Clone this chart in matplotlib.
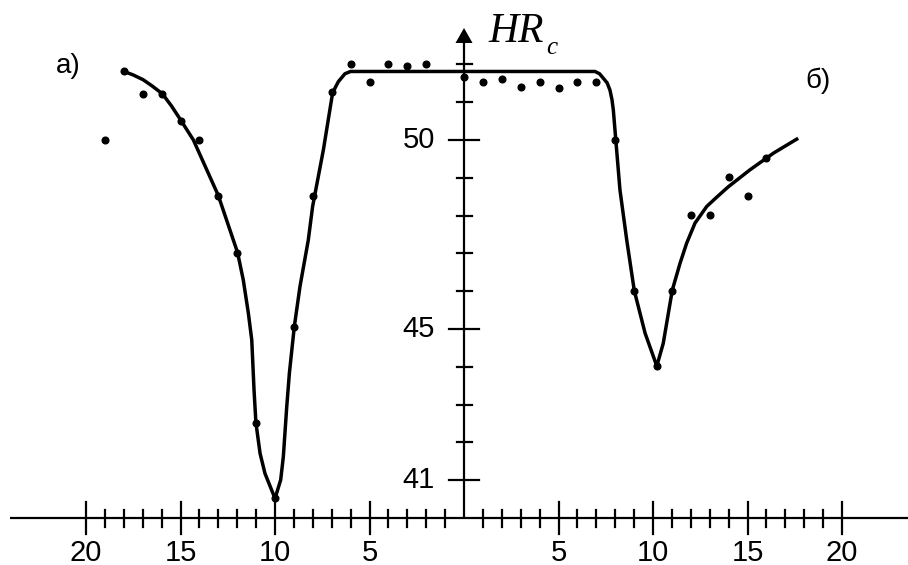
import matplotlib
matplotlib.use("Agg")
import matplotlib.pyplot as plt
from matplotlib.patches import Polygon

# ---- data ----
# left panel (a): distance to the left of the HR axis
left_dist = [19, 18, 17, 16, 15, 14, 13, 12, 11, 10, 9, 8, 7, 6, 5, 4, 3, 2]
left_hr = [50.0, 51.81, 51.21, 51.21, 50.51, 50.0, 48.52, 47.02, 42.52, 40.52,
           45.06, 48.52, 51.28, 52.01, 51.52, 52.01, 51.96, 52.01]
# right panel (б)
right_dist = [0, 1, 2, 3, 4, 5, 6, 7, 8, 9, 10.2, 11, 12, 13, 14, 15, 16]
right_hr = [51.66, 51.52, 51.61, 51.41, 51.52, 51.36, 51.52, 51.52, 50.0, 46.01,
            44.02, 46.01, 48.02, 48.02, 49.01, 48.52, 49.52]
# fitted curve (signed position: negative = left side)
curve_x = [-17.99, -17.51, -16.97, -16.51, -15.96, -15.48, -14.97, -14.32, -13.0,
           -11.98, -11.68, -11.41, -11.23, -11.11, -11.01, -10.79, -10.53, -10.0,
           -9.70, -9.56, -9.38, -9.24, -8.98, -8.68, -8.24, -8.01, -7.44, -6.95,
           -6.65, -6.30, -6.0,
           6.93, 7.17, 7.37, 7.57, 7.72, 7.83, 7.90, 8.03, 8.25, 8.61, 9.01, 9.58,
           10.20, 10.54, 11.02, 11.43, 11.78, 12.22, 12.84, 13.40, 13.98, 15.13,
           16.37, 17.60]
curve_y = [51.81, 51.72, 51.59, 51.43, 51.22, 50.90, 50.51, 50.0, 48.53,
           47.02, 46.30, 45.42, 44.71, 43.39, 42.52, 41.71, 41.18, 40.52,
           41.01, 41.62, 42.94, 43.83, 45.06, 46.12, 47.35, 48.24, 49.74, 51.25,
           51.54, 51.75, 51.81,
           51.81, 51.75, 51.63, 51.51, 51.32, 51.06, 50.79, 50.0, 48.68, 47.35,
           46.01, 44.89, 44.02, 44.62, 46.03, 46.74, 47.27, 47.80, 48.24, 48.50,
           48.76, 49.21, 49.65, 50.02]

x_major = [5, 10, 15, 20]
x_minor = [1, 2, 3, 4, 6, 7, 8, 9, 11, 12, 13, 14, 16, 17, 18, 19]
y_major = [41, 45, 50]
y_minor = [42, 43, 44, 46, 47, 48, 49, 51, 52]

# ---- figure ----
W, H = 908, 565
fig = plt.figure(figsize=(W / 100, H / 100), dpi=100)
ax = fig.add_axes([0, 0, 1, 1])
ax.set_xlim(-24.55, 23.49)
ax.set_ylim(38.76, 53.70)
ax.axis("off")

px_x = 18.9   # pixels per x unit
px_y = 37.8   # pixels per y unit
alw = 1.6

# axes lines
ax.plot([-24.0, 23.6], [40, 40], color="black", lw=alw, solid_capstyle="butt")
ax.plot([0, 0], [40, 52.7], color="black", lw=alw, solid_capstyle="butt")
tip = 52.96
base = tip - 15 / px_y
hw = 8.5 / px_x
ax.add_patch(Polygon([[0, tip], [-hw, base], [hw, base]], closed=True,
                     color="black", lw=0))

# x ticks
for s in (-1, 1):
    for v in x_major:
        ax.plot([s * v, s * v], [40 - 16 / px_y, 40 + 16 / px_y], color="black", lw=alw)
        ax.text(s * v, 39.09, str(v), ha="center", va="center",
                fontsize=21, family="Liberation Sans")
    for v in x_minor:
        ax.plot([s * v, s * v], [40 - 8.5 / px_y, 40 + 8.5 / px_y], color="black", lw=alw)

# y ticks
for v in y_major:
    ax.plot([-15 / px_x, 15 / px_x], [v, v], color="black", lw=alw)
    ax.text(-29 / px_x, v, str(v), ha="right", va="center",
            fontsize=21, family="Liberation Sans")
for v in y_minor:
    ax.plot([-7.5 / px_x, 7.5 / px_x], [v, v], color="black", lw=alw)

# curve and points
ax.plot(curve_x, curve_y, color="black", lw=2.5, solid_joinstyle="round")
ax.plot([-d for d in left_dist], left_hr, "o", color="black", ms=4.8)
ax.plot(right_dist, right_hr, "o", color="black", ms=4.8)

# labels
fig.text(488 / W, 1 - 42 / H, "HR", fontsize=30, family="Liberation Serif",
         style="italic", ha="left", va="baseline")
fig.text(546 / W, 1 - 54 / H, "c", fontsize=18, family="Liberation Serif",
         style="italic", ha="left", va="baseline")
fig.text(68 / W, 1 - 66 / H, "а)", fontsize=20, family="Liberation Sans",
         ha="center", va="center")
fig.text(818 / W, 1 - 81 / H, "б)", fontsize=20, family="Liberation Sans",
         ha="center", va="center")

fig.savefig("out.png", dpi=100)
